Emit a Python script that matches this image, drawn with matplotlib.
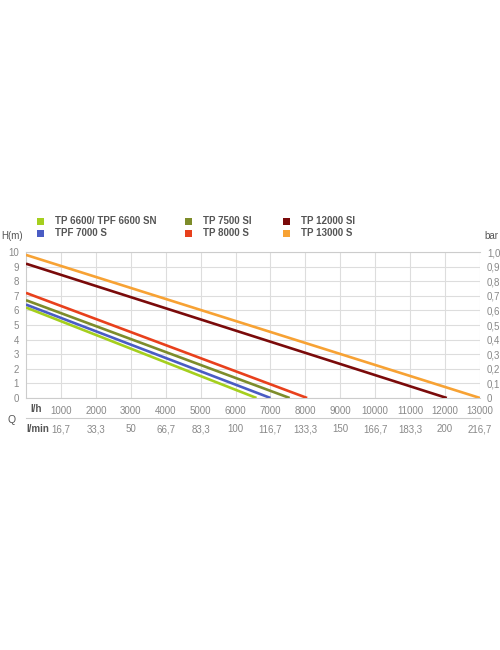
import numpy as np
import matplotlib.pyplot as plt
import matplotlib.transforms as mtransforms
from matplotlib.patches import Rectangle

plt.rcParams['font.family'] = ['Liberation Sans', 'DejaVu Sans']

# pump curves: flow (l/h) vs head (m)
models = ["TP 6600/ TPF 6600 SN", "TPF 7000 S", "TP 7500 SI",
          "TP 8000 S", "TP 12000 SI", "TP 13000 S"]
colors = ["#a5cf1e", "#4a5cc4", "#7d8c2a", "#e8401c", "#7a0a0a", "#f7a234"]
flow = [[0, 6600], [0, 7000], [0, 7550], [0, 8050], [0, 12050], [0, 13000]]
head = [[6.2, 0], [6.4, 0], [6.7, 0], [7.2, 0], [9.2, 0], [9.8, 0]]

lh_ticks = [1000, 2000, 3000, 4000, 5000, 6000, 7000, 8000, 9000,
            10000, 11000, 12000, 13000]
lmin_labels = ["16,7", "33,3", "50", "66,7", "83,3", "100", "116,7",
               "133,3", "150", "166,7", "183,3", "200", "216,7"]
h_ticks = list(range(0, 11))
bar_labels = ["0", "0,1", "0,2", "0,3", "0,4", "0,5", "0,6", "0,7",
              "0,8", "0,9", "1,0"]

W, H = 500, 650
fig = plt.figure(figsize=(5, 6.5), dpi=100)
ax = fig.add_axes([26 / W, 1 - 398 / H, (480 - 26) / W, (398 - 252) / H])

txt = "#555555"
lab = "#888888"

for xs, ys, c in zip(flow, head, colors):
    ax.plot(xs, ys, color=c, lw=1.9, solid_capstyle='butt', zorder=3)

ax.set_xlim(0, 13000)
ax.set_ylim(0, 10)
ax.set_xticks(lh_ticks)
ax.set_xticklabels([str(v) for v in lh_ticks])
ax.set_yticks(h_ticks)
ax.grid(True, color="#dddddd", lw=0.8, zorder=0)
for s in ax.spines.values():
    s.set_color("#cccccc")
    s.set_linewidth(0.8)
ax.spines['right'].set_visible(False)
ax.tick_params(length=0, labelsize=7, colors=lab, pad=6)
ax.tick_params(axis='y', pad=5)

ax2 = ax.twinx()
ax2.set_ylim(0, 10)
ax2.set_yticks(h_ticks)
ax2.set_yticklabels(bar_labels)
ax2.tick_params(length=0, labelsize=7, colors=lab, pad=5)
for s in ax2.spines.values():
    s.set_visible(False)

# second flow row in l/min
tr = mtransforms.blended_transform_factory(ax.transData, fig.transFigure)
for x, t in zip(lh_ticks, lmin_labels):
    fig.text(x, 1 - 429 / H, t, transform=tr, ha='center', va='center',
             fontsize=7, color=lab)
fig.add_artist(plt.Line2D([26 / W, 480 / W], [1 - 418 / H, 1 - 418 / H],
                          transform=fig.transFigure, color="#cccccc", lw=0.8))
fig.text(30 / W, 1 - 409 / H, "l/h", fontsize=7, fontweight='bold',
         color=txt, ha='left', va='center')
fig.text(26 / W, 1 - 429 / H, "l/min", fontsize=7, fontweight='bold',
         color=txt, ha='left', va='center')
fig.text(8 / W, 1 - 420 / H, "Q", fontsize=7.5, color=txt,
         ha='left', va='center')
fig.text(23 / W, 1 - 236 / H, "H(m)", fontsize=7, color=txt,
         ha='right', va='center')
fig.text(484 / W, 1 - 236 / H, "bar", fontsize=7, color=txt,
         ha='left', va='center')

# legend
leg_x = [40, 188, 286]
leg_y = [221, 233]
for i, (name, c) in enumerate(zip(models, colors)):
    col, row = divmod(i, 2)
    cx, cy = leg_x[col], leg_y[row]
    fig.add_artist(Rectangle(((cx - 3.5) / W, 1 - (cy + 3.5) / H), 7 / W, 7 / H,
                             transform=fig.transFigure, color=c, lw=0))
    fig.text((cx + 15) / W, 1 - cy / H, name, fontsize=7, fontweight='bold',
             color=txt, ha='left', va='center')

fig.savefig("out.png", dpi=100)
